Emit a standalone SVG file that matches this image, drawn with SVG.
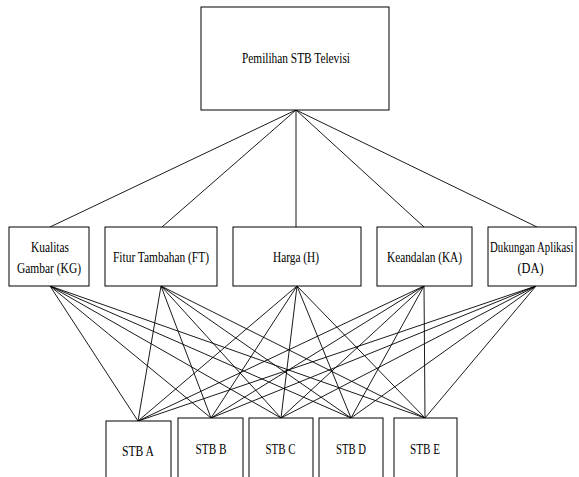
<svg xmlns="http://www.w3.org/2000/svg" width="579" height="477" viewBox="0 0 579 477">
<style>
.box{fill:#fff;stroke:#000;stroke-width:1}
.t{font-family:'Liberation Serif','DejaVu Serif',serif;font-size:14px;fill:#000;text-anchor:middle}
.c{stroke:#000;stroke-width:0.9;fill:none}
</style>
<rect width="579" height="477" fill="#fff"/>
<g id="connectors">
<line class="c" x1="296" y1="110" x2="50" y2="227"/>
<line class="c" x1="296" y1="110" x2="162" y2="227"/>
<line class="c" x1="296" y1="110" x2="296" y2="227"/>
<line class="c" x1="296" y1="110" x2="424" y2="227"/>
<line class="c" x1="296" y1="110" x2="537" y2="227"/>
<line class="c" x1="50" y1="286" x2="138" y2="421"/>
<line class="c" x1="50" y1="286" x2="211" y2="418"/>
<line class="c" x1="50" y1="286" x2="281" y2="418"/>
<line class="c" x1="50" y1="286" x2="351" y2="418"/>
<line class="c" x1="50" y1="286" x2="425" y2="418"/>
<line class="c" x1="161" y1="286" x2="138" y2="421"/>
<line class="c" x1="161" y1="286" x2="211" y2="418"/>
<line class="c" x1="161" y1="286" x2="281" y2="418"/>
<line class="c" x1="161" y1="286" x2="351" y2="418"/>
<line class="c" x1="161" y1="286" x2="425" y2="418"/>
<line class="c" x1="297" y1="286" x2="138" y2="421"/>
<line class="c" x1="297" y1="286" x2="211" y2="418"/>
<line class="c" x1="297" y1="286" x2="281" y2="418"/>
<line class="c" x1="297" y1="286" x2="351" y2="418"/>
<line class="c" x1="297" y1="286" x2="425" y2="418"/>
<line class="c" x1="424" y1="286" x2="138" y2="421"/>
<line class="c" x1="424" y1="286" x2="211" y2="418"/>
<line class="c" x1="424" y1="286" x2="281" y2="418"/>
<line class="c" x1="424" y1="286" x2="351" y2="418"/>
<line class="c" x1="424" y1="286" x2="425" y2="418"/>
<line class="c" x1="536" y1="286" x2="138" y2="421"/>
<line class="c" x1="536" y1="286" x2="211" y2="418"/>
<line class="c" x1="536" y1="286" x2="281" y2="418"/>
<line class="c" x1="536" y1="286" x2="351" y2="418"/>
<line class="c" x1="536" y1="286" x2="425" y2="418"/>
</g>
<g id="goal">
<rect class="box" x="201" y="7" width="188" height="103"/>
<text class="t" x="296" y="63" textLength="108" lengthAdjust="spacingAndGlyphs">Pemilihan STB Televisi</text>
</g>
<g id="kg">
<rect class="box" x="9" y="227" width="80" height="59"/>
<text class="t" x="50" y="252" textLength="38" lengthAdjust="spacingAndGlyphs">Kualitas</text>
<text class="t" x="49" y="273" textLength="64" lengthAdjust="spacingAndGlyphs">Gambar (KG)</text>
</g>
<g id="ft">
<rect class="box" x="105" y="227" width="112" height="59"/>
<text class="t" x="161" y="262" textLength="96" lengthAdjust="spacingAndGlyphs">Fitur Tambahan (FT)</text>
</g>
<g id="h">
<rect class="box" x="233" y="227" width="128" height="59"/>
<text class="t" x="296" y="262" textLength="46" lengthAdjust="spacingAndGlyphs">Harga (H)</text>
</g>
<g id="ka">
<rect class="box" x="377" y="227" width="95" height="59"/>
<text class="t" x="424.5" y="262" textLength="75" lengthAdjust="spacingAndGlyphs">Keandalan (KA)</text>
</g>
<g id="da">
<rect class="box" x="488" y="227" width="88" height="59"/>
<text class="t" transform="translate(490 252) scale(0.77 1)" x="0" y="0" style="text-anchor:start">Dukungan Aplikasi</text>
<text class="t" x="530.5" y="273" textLength="26" lengthAdjust="spacingAndGlyphs">(DA)</text>
</g>
<g id="stb-a">
<rect class="box" x="106" y="421" width="65" height="62"/>
<text class="t" x="138" y="456" textLength="32" lengthAdjust="spacingAndGlyphs">STB A</text>
</g>
<g id="stb-b">
<rect class="box" x="178" y="418" width="65" height="65"/>
<text class="t" x="211" y="454" textLength="31" lengthAdjust="spacingAndGlyphs">STB B</text>
</g>
<g id="stb-c">
<rect class="box" x="249" y="418" width="64" height="65"/>
<text class="t" x="280.5" y="454" textLength="30" lengthAdjust="spacingAndGlyphs">STB C</text>
</g>
<g id="stb-d">
<rect class="box" x="319" y="418" width="64" height="65"/>
<text class="t" x="351" y="454" textLength="30" lengthAdjust="spacingAndGlyphs">STB D</text>
</g>
<g id="stb-e">
<rect class="box" x="394" y="418" width="63" height="65"/>
<text class="t" x="425" y="454" textLength="30" lengthAdjust="spacingAndGlyphs">STB E</text>
</g>
</svg>
